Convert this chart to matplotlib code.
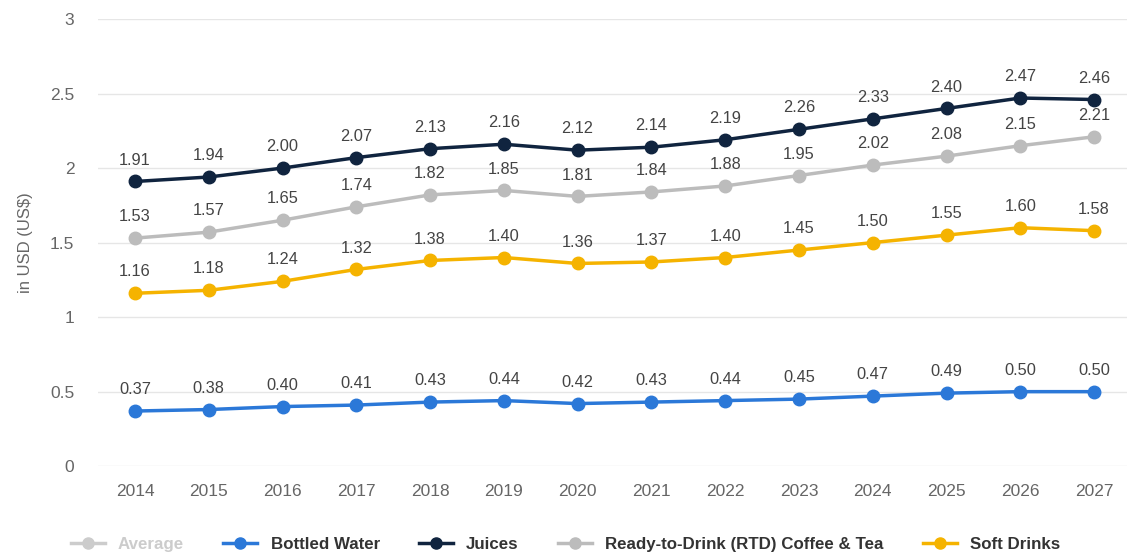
import numpy as np
import matplotlib.pyplot as plt
from matplotlib.lines import Line2D

plt.rcParams['font.family'] = ['Liberation Sans', 'DejaVu Sans']

years = ['2014', '2015', '2016', '2017', '2018', '2019', '2020',
         '2021', '2022', '2023', '2024', '2025', '2026', '2027']
bottled_water = [0.37, 0.38, 0.40, 0.41, 0.43, 0.44, 0.42, 0.43, 0.44, 0.45, 0.47, 0.49, 0.50, 0.50]
juices = [1.91, 1.94, 2.00, 2.07, 2.13, 2.16, 2.12, 2.14, 2.19, 2.26, 2.33, 2.40, 2.47, 2.46]
rtd_coffee_tea = [1.53, 1.57, 1.65, 1.74, 1.82, 1.85, 1.81, 1.84, 1.88, 1.95, 2.02, 2.08, 2.15, 2.21]
soft_drinks = [1.16, 1.18, 1.24, 1.32, 1.38, 1.40, 1.36, 1.37, 1.40, 1.45, 1.50, 1.55, 1.60, 1.58]

series = [
    ('Bottled Water', bottled_water, '#2b78d8'),
    ('Juices', juices, '#10243f'),
    ('Ready-to-Drink (RTD) Coffee & Tea', rtd_coffee_tea, '#bcbcbc'),
    ('Soft Drinks', soft_drinks, '#f5b300'),
]

fig = plt.figure(figsize=(11.31, 5.53), dpi=100)
ax = fig.add_axes([0.0867, 0.157, 0.91, 0.8086])

x = np.arange(len(years))
for name, vals, col in series:
    ax.plot(x, vals, color=col, lw=2.5, marker='o', ms=9, zorder=3)
    for xi, v in zip(x, vals):
        ax.annotate(f'{v:.2f}', (xi, v), xytext=(0, 10), textcoords='offset points',
                    ha='center', va='bottom', fontsize=11.8, color='#444444')

ax.set_ylim(0, 3)
ax.set_xlim(-0.5, 13.45)
ax.set_yticks([0, 0.5, 1, 1.5, 2, 2.5, 3])
ax.set_yticklabels(['0', '0.5', '1', '1.5', '2', '2.5', '3'])
ax.set_xticks(x)
ax.set_xticklabels(years)
ax.tick_params(length=0, labelsize=12.5, colors='#666666', pad=13)
ax.tick_params(axis='y', pad=17)
ax.grid(axis='y', color='#e6e6e6', lw=1)
ax.set_axisbelow(True)
for s in ax.spines.values():
    s.set_visible(False)
ax.set_ylabel('in USD (US$)', fontsize=12, color='#666666', labelpad=12)

# legend: Average is shown greyed out (hidden series)
handles = [Line2D([], [], color='#cccccc', lw=2.5, marker='o', ms=8)]
labels = ['Average']
for name, vals, col in series:
    handles.append(Line2D([], [], color=col, lw=2.5, marker='o', ms=8))
    labels.append(name)
leg = fig.legend(handles, labels, loc='lower center', ncol=5, frameon=False,
                 bbox_to_anchor=(0.5, -0.025), handlelength=2.0, columnspacing=2.3,
                 prop={'weight': 'bold', 'size': 12.2})
for i, t in enumerate(leg.get_texts()):
    t.set_color('#cccccc' if i == 0 else '#333333')

fig.savefig('out.png', dpi=100)
